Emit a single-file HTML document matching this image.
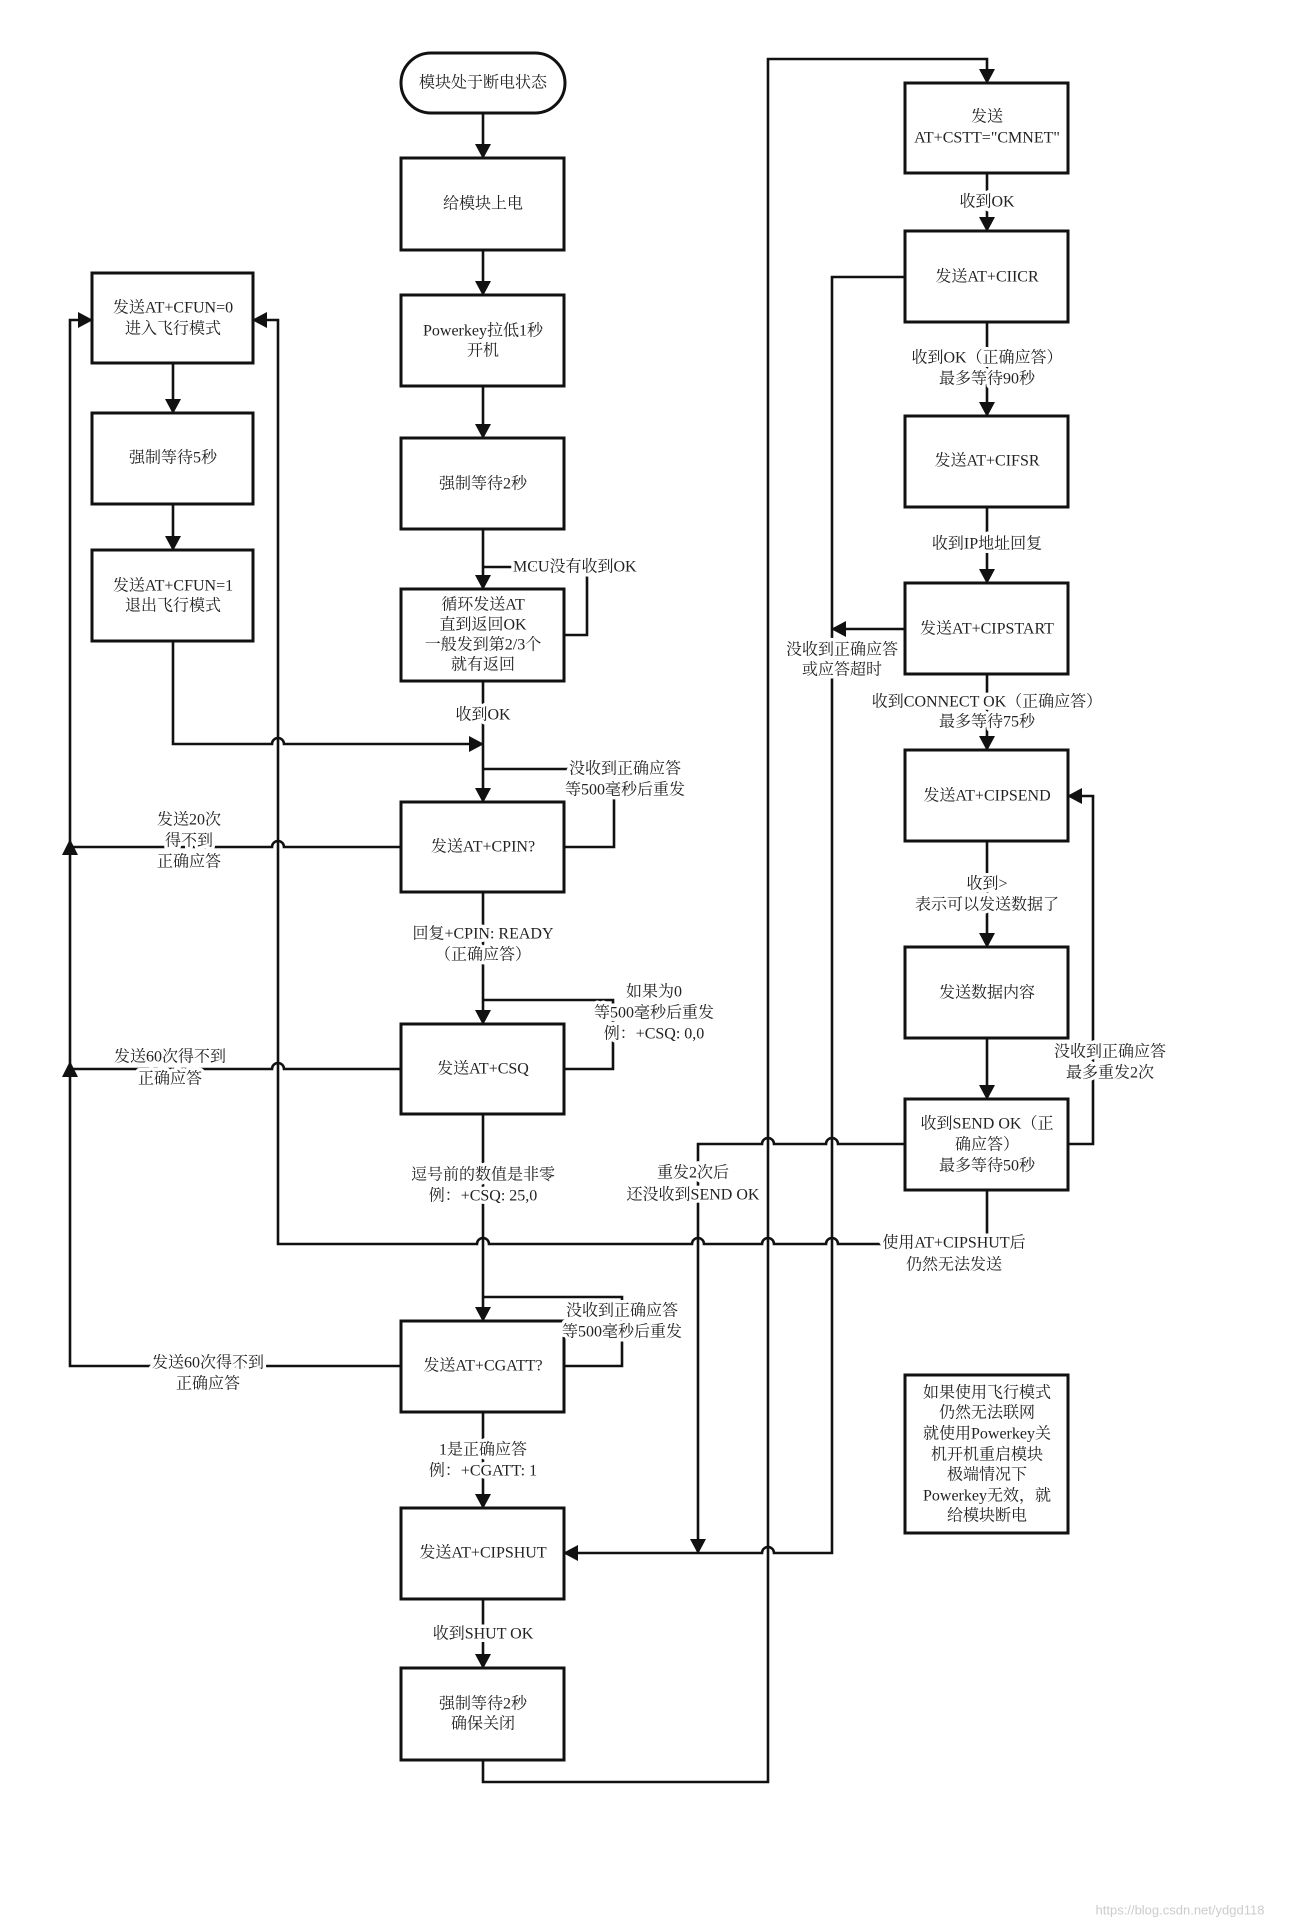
<!DOCTYPE html>
<html><head><meta charset="utf-8"><style>
html,body{margin:0;padding:0;background:#fff;}
svg{display:block;}
text{font-family:"Liberation Serif","Noto Serif CJK SC",serif;font-size:16px;fill:#222;text-anchor:middle;dominant-baseline:central;}
.l{stroke:#fff;stroke-width:7px;paint-order:stroke;stroke-linejoin:round;}
.b{fill:#fff;stroke:#111;stroke-width:3;}
.p{fill:none;stroke:#111;stroke-width:2.6;}
</style></head><body>
<svg width="1295" height="1928" viewBox="0 0 1295 1928" xmlns="http://www.w3.org/2000/svg">
<defs>
<marker id="a" markerWidth="16" markerHeight="16" refX="14" refY="8" orient="auto" markerUnits="userSpaceOnUse">
<path d="M0,0 L15,8 L0,16 z" fill="#111"/></marker>
</defs>

<g class="p">
<path d="M483 113 V158" marker-end="url(#a)"/>
<path d="M483 250 V295" marker-end="url(#a)"/>
<path d="M483 386 V438" marker-end="url(#a)"/>
<path d="M483 529 V589" marker-end="url(#a)"/>
<path d="M483 567 H587 V635 H564"/>
<path d="M483 681 V802" marker-end="url(#a)"/>
<path d="M173 363 V413" marker-end="url(#a)"/>
<path d="M173 504 V550" marker-end="url(#a)"/>
<path d="M173 641 V744 H272 a6 6 0 0 1 12 0 H483" marker-end="url(#a)"/>
<path d="M483 769 H614 V847 H564"/>
<path d="M400 847 H284 a6 6 0 0 0 -12 0 H70"/>
<path d="M483 892 V1024" marker-end="url(#a)"/>
<path d="M483 1000 H613 V1069 H564"/>
<path d="M400 1069 H284 a6 6 0 0 0 -12 0 H70"/>
<path d="M483 1114 V1321" marker-end="url(#a)"/>
<path d="M483 1297 H622 V1366 H564"/>
<path d="M400 1366 H70 V320 H92" marker-end="url(#a)"/>
<path d="M483 1412 V1508" marker-end="url(#a)"/>
<path d="M483 1599 V1668" marker-end="url(#a)"/>
<path d="M483 1760 V1782 H768 V59 H987 V83" marker-end="url(#a)"/>
<path d="M987 173 V231" marker-end="url(#a)"/>
<path d="M987 322 V416" marker-end="url(#a)"/>
<path d="M987 507 V583" marker-end="url(#a)"/>
<path d="M987 674 V750" marker-end="url(#a)"/>
<path d="M987 841 V947" marker-end="url(#a)"/>
<path d="M987 1038 V1099" marker-end="url(#a)"/>
<path d="M905 277 H832 V1553 H774 a6 6 0 0 0 -12 0 H564" marker-end="url(#a)"/>
<path d="M905 629 H832" marker-end="url(#a)"/>
<path d="M1068 1144 H1093 V796 H1068" marker-end="url(#a)"/>
<path d="M905 1144 H838 a6 6 0 0 0 -12 0 H774 a6 6 0 0 0 -12 0 H698 V1553" marker-end="url(#a)"/>
<path d="M987 1190 V1244 H838 a6 6 0 0 0 -12 0 H774 a6 6 0 0 0 -12 0 H704 a6 6 0 0 0 -12 0 H489 a6 6 0 0 0 -12 0 H278 V320 H253" marker-end="url(#a)"/>
</g>
<polygon points="70,839 62,855 78,855" fill="#111"/>
<polygon points="70,1061 62,1077 78,1077" fill="#111"/>

<rect class="b" x="401" y="53" width="164" height="60" rx="30"/>
<rect class="b" x="401" y="158" width="163" height="92"/>
<rect class="b" x="401" y="295" width="163" height="91"/>
<rect class="b" x="401" y="438" width="163" height="91"/>
<rect class="b" x="401" y="589" width="163" height="92"/>
<rect class="b" x="401" y="802" width="163" height="90"/>
<rect class="b" x="401" y="1024" width="163" height="90"/>
<rect class="b" x="401" y="1321" width="163" height="91"/>
<rect class="b" x="401" y="1508" width="163" height="91"/>
<rect class="b" x="401" y="1668" width="163" height="92"/>
<rect class="b" x="92" y="273" width="161" height="90"/>
<rect class="b" x="92" y="413" width="161" height="91"/>
<rect class="b" x="92" y="550" width="161" height="91"/>
<rect class="b" x="905" y="83" width="163" height="90"/>
<rect class="b" x="905" y="231" width="163" height="91"/>
<rect class="b" x="905" y="416" width="163" height="91"/>
<rect class="b" x="905" y="583" width="163" height="91"/>
<rect class="b" x="905" y="750" width="163" height="91"/>
<rect class="b" x="905" y="947" width="163" height="91"/>
<rect class="b" x="905" y="1099" width="163" height="91"/>
<rect class="b" x="905" y="1375" width="163" height="158"/>

<text x="483" y="83">模块处于断电状态</text>
<text x="483" y="204">给模块上电</text>
<text x="483" y="331">Powerkey拉低1秒</text><text x="483" y="351">开机</text>
<text x="483" y="484">强制等待2秒</text>
<text x="483" y="605">循环发送AT</text><text x="483" y="625">直到返回OK</text><text x="483" y="645">一般发到第2/3个</text><text x="483" y="665">就有返回</text>
<text x="483" y="847">发送AT+CPIN?</text>
<text x="483" y="1069">发送AT+CSQ</text>
<text x="483" y="1366">发送AT+CGATT?</text>
<text x="483" y="1553">发送AT+CIPSHUT</text>
<text x="483" y="1704">强制等待2秒</text><text x="483" y="1724">确保关闭</text>
<text x="173" y="308">发送AT+CFUN=0</text><text x="173" y="329">进入飞行模式</text>
<text x="173" y="458">强制等待5秒</text>
<text x="173" y="586">发送AT+CFUN=1</text><text x="173" y="606">退出飞行模式</text>
<text x="987" y="117">发送</text><text x="987" y="138">AT+CSTT="CMNET"</text>
<text x="987" y="277">发送AT+CIICR</text>
<text x="987" y="461">发送AT+CIFSR</text>
<text x="987" y="629">发送AT+CIPSTART</text>
<text x="987" y="796">发送AT+CIPSEND</text>
<text x="987" y="993">发送数据内容</text>
<text x="987" y="1124">收到SEND OK（正</text><text x="987" y="1145">确应答）</text><text x="987" y="1166">最多等待50秒</text>
<text x="987" y="1393">如果使用飞行模式</text><text x="987" y="1413">仍然无法联网</text><text x="987" y="1434">就使用Powerkey关</text><text x="987" y="1455">机开机重启模块</text><text x="987" y="1475">极端情况下</text><text x="987" y="1496">Powerkey无效，就</text><text x="987" y="1516">给模块断电</text>

<text class="l" x="513" y="567" style="text-anchor:start">MCU没有收到OK</text>
<text class="l" x="483" y="715">收到OK</text>
<text class="l" x="625" y="769">没收到正确应答</text><text class="l" x="625" y="790">等500毫秒后重发</text>
<text class="l" x="189" y="820">发送20次</text><text class="l" x="189" y="841">得不到</text><text class="l" x="189" y="862">正确应答</text>
<text class="l" x="483" y="934">回复+CPIN: READY</text><text class="l" x="483" y="955">（正确应答）</text>
<text class="l" x="654" y="992">如果为0</text><text class="l" x="654" y="1013">等500毫秒后重发</text><text class="l" x="654" y="1034">例：+CSQ: 0,0</text>
<text class="l" x="170" y="1057">发送60次得不到</text><text class="l" x="170" y="1079">正确应答</text>
<text class="l" x="483" y="1175">逗号前的数值是非零</text><text class="l" x="483" y="1196">例：+CSQ: 25,0</text>
<text class="l" x="622" y="1311">没收到正确应答</text><text class="l" x="622" y="1332">等500毫秒后重发</text>
<text class="l" x="208" y="1363">发送60次得不到</text><text class="l" x="208" y="1384">正确应答</text>
<text class="l" x="483" y="1450">1是正确应答</text><text class="l" x="483" y="1471">例：+CGATT: 1</text>
<text class="l" x="483" y="1634">收到SHUT OK</text>
<text class="l" x="987" y="202">收到OK</text>
<text class="l" x="987" y="358">收到OK（正确应答）</text><text class="l" x="987" y="379">最多等待90秒</text>
<text class="l" x="987" y="544">收到IP地址回复</text>
<text class="l" x="842" y="650">没收到正确应答</text><text class="l" x="842" y="670">或应答超时</text>
<text class="l" x="987" y="702">收到CONNECT OK（正确应答）</text><text class="l" x="987" y="722">最多等待75秒</text>
<text class="l" x="987" y="884">收到&gt;</text><text class="l" x="987" y="905">表示可以发送数据了</text>
<text class="l" x="1110" y="1052">没收到正确应答</text><text class="l" x="1110" y="1073">最多重发2次</text>
<text class="l" x="693" y="1173">重发2次后</text><text class="l" x="693" y="1195">还没收到SEND OK</text>
<text class="l" x="954" y="1243">使用AT+CIPSHUT后</text><text class="l" x="954" y="1265">仍然无法发送</text>
<text x="1180" y="1910" style="fill:#ccc;font-size:13px;font-family:'Liberation Sans',sans-serif">https://blog.csdn.net/ydgd118</text>
</svg>
</body></html>
